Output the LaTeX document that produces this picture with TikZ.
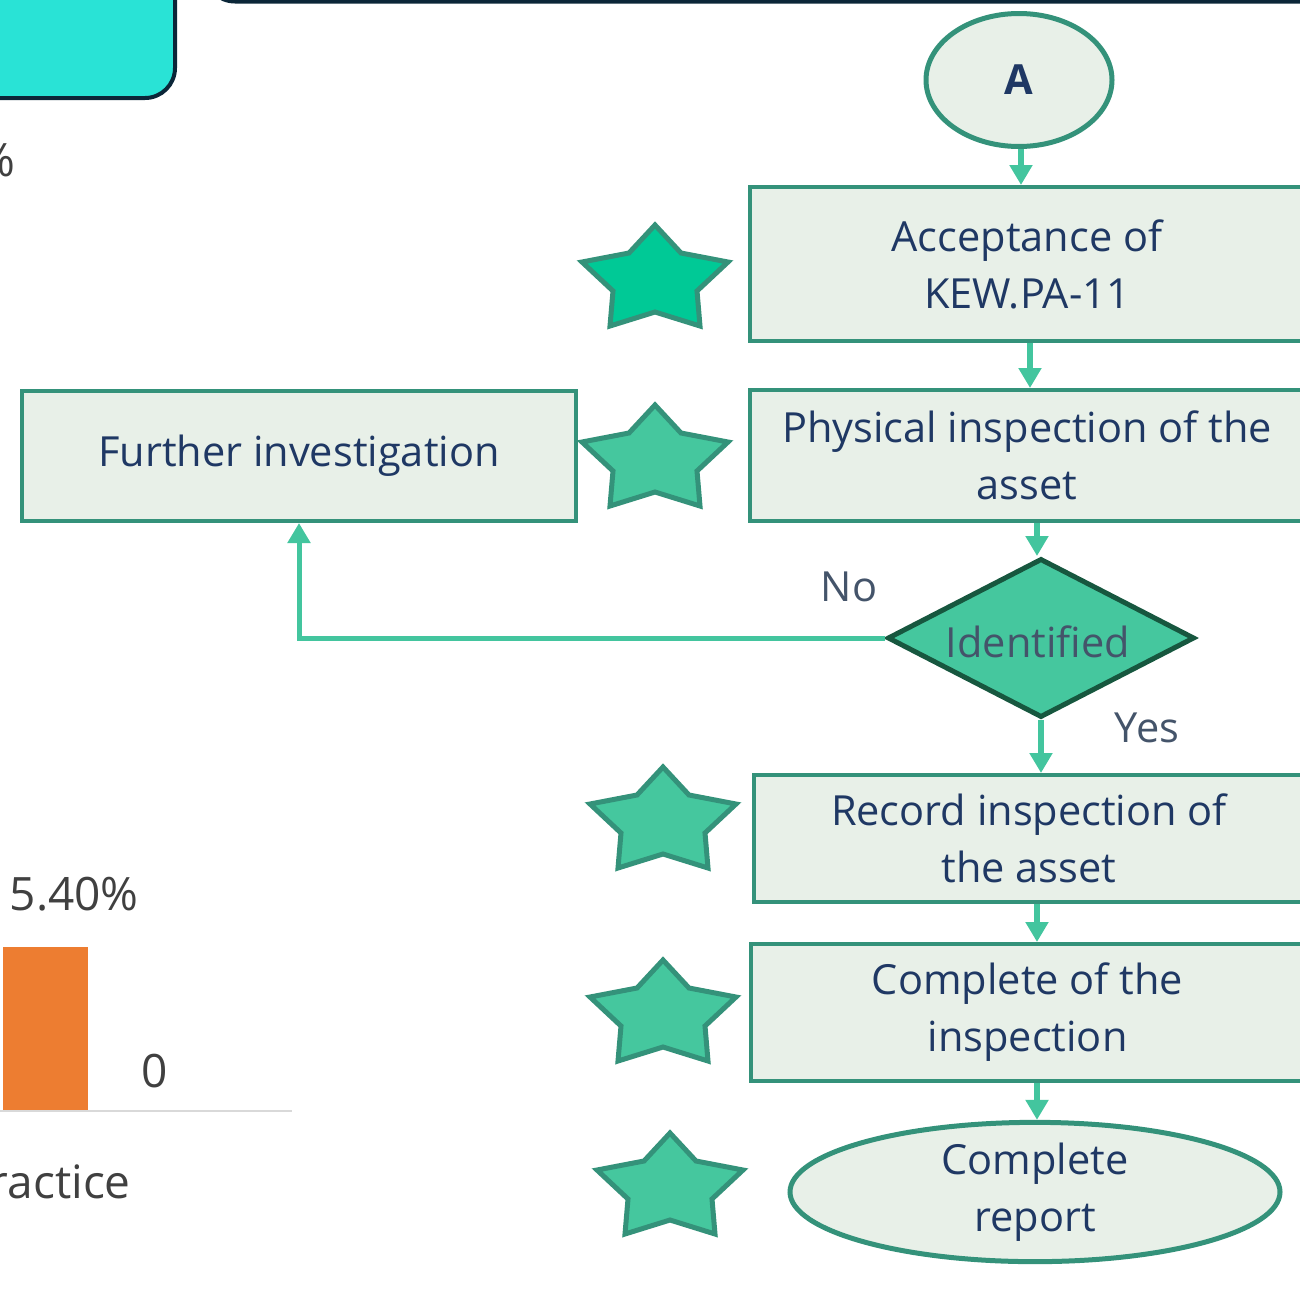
\documentclass[tikz,border=0pt]{standalone}
\usepackage{fontspec}
\setmainfont{Open Sans}
\usetikzlibrary{arrows.meta,shapes.geometric}

\definecolor{boxfill}{HTML}{E8F0E8}
\definecolor{boxline}{HTML}{34927A}
\definecolor{flow}{HTML}{43C59E}
\definecolor{navy}{HTML}{1F3864}
\definecolor{slate}{HTML}{44546A}
\definecolor{diafill}{HTML}{45C79E}
\definecolor{dialine}{HTML}{17573F}
\definecolor{starA}{HTML}{00C996}
\definecolor{starB}{HTML}{45C79E}
\definecolor{panel}{HTML}{29E3D6}
\definecolor{panelline}{HTML}{0B2638}
\definecolor{chartgrey}{HTML}{404040}
\definecolor{barorange}{HTML}{ED7D31}
\definecolor{axisgrey}{HTML}{D9D9D9}

\tikzset{
  bigtext/.style={font=\fontsize{41.5}{57}\selectfont},
  stepbox/.style={rectangle, draw=boxline, line width=4pt, fill=boxfill,
    text=navy, bigtext, align=center, inner sep=0pt},
  endcap/.style={ellipse, draw=boxline, line width=5pt, fill=boxfill,
    text=navy, bigtext, align=center, inner sep=0pt},
  flowarrow/.style={draw=flow, line width=6pt,
    -{Triangle[width=22pt,length=20pt]}},
  starline/.style={draw=boxline, line width=5pt, line join=miter},
  tag/.style={text=slate, bigtext},
  charttext/.style={text=chartgrey, font=\fontsize{46}{57}\selectfont}
}

% five-pointed star, given by its top point
\newcommand\flowstar[3]{%
  \draw[starline, fill=#3, shift={(#1,#2)}]
    (0,0) -- (-26,28) -- (-73,37) -- (-42,66) -- (-45,101) -- (0,87)
    -- (45,101) -- (42,66) -- (73,37) -- (26,28) -- cycle;}

\begin{document}
\begin{tikzpicture}[x=1pt, y=-1pt]
\useasboundingbox (0,0) rectangle (1300,1312);
\clip (0,0) rectangle (1300,1312);

% panels along the top edge
\draw[fill=panel, draw=panelline, line width=4pt, rounded corners=30pt]
  (-60,-120) rectangle (175,98);
\draw[draw=panelline, line width=5pt, rounded corners=30pt]
  (205,-120) rectangle (1420,1);

% chart fragment on the left
\node[charttext, anchor=base east, inner sep=0pt] (pct1) at (16,176) {0\%};
\node[charttext, anchor=base east, inner sep=0pt] (pct2) at (139,910) {15.40\%};
\fill[barorange] (3,947) rectangle (88,1110);
\node[charttext, anchor=base, inner sep=0pt] (zero) at (155,1087) {0};
\draw[axisgrey, line width=2pt] (-5,1111) -- (292,1111);
\node[charttext, anchor=base east, inner sep=0pt] (cat) at (131,1198) {Practice};

% flowchart nodes
\node[endcap, minimum width=186pt, minimum height=133pt,
      font=\fontsize{41.5}{57}\selectfont\bfseries] (a) at (1019,80) {A};
\node[stepbox, minimum width=554pt, minimum height=154pt] (b1) at (1027,264)
  {Acceptance of\\KEW.PA-11};
\node[stepbox, minimum width=554pt, minimum height=131pt] (b2) at (1027,455.5)
  {Physical inspection of the\\asset};
\node[stepbox, minimum width=554pt, minimum height=130pt] (fi) at (299,456)
  {Further investigation};
\node[diamond, draw=dialine, line width=5pt, fill=diafill, inner sep=0pt,
      minimum width=307pt, minimum height=159pt] (dia) at (1041,638) {};
\node[text=slate, bigtext] (dialabel) at (1038,642) {Identified};
\node[stepbox, minimum width=550pt, minimum height=127pt] (b3) at (1029,838.5)
  {Record inspection of\\the asset};
\node[stepbox, minimum width=553pt, minimum height=137pt] (b4) at (1027.5,1012.5)
  {Complete of the\\inspection};
\node[endcap, minimum width=490pt, minimum height=130pt] (rep) at (1035,1192)
  {Complete\\report};

% stars beside the steps
\flowstar{655}{225}{starA}
\flowstar{655}{405}{starB}
\flowstar{663}{767}{starB}
\flowstar{663}{960}{starB}
\flowstar{670}{1133}{starB}

% connectors
\draw[flowarrow] ([xshift=2pt]a.south) -- ([xshift=2pt]a.south |- b1.north);
\draw[flowarrow] ([xshift=3pt]b1.south) -- ([xshift=3pt]b2.north);
\draw[flowarrow] ([xshift=10pt]b2.south) -- ([xshift=10pt]b2.south |- dia.north);
\draw[flowarrow] (dia.south) -- (dia.south |- b3.north);
\draw[flowarrow] ([xshift=8pt]b3.south) -- ([xshift=9.5pt]b4.north);
\draw[flowarrow] ([xshift=9.5pt]b4.south) -- ([xshift=2pt]rep.north);
\draw[flowarrow, line width=5pt] (dia.west) -| (fi.south);

% branch labels
\node[tag] (no) at (849,587) {No};
\node[tag] (yes) at (1147,728) {Yes};
\end{tikzpicture}
\end{document}
